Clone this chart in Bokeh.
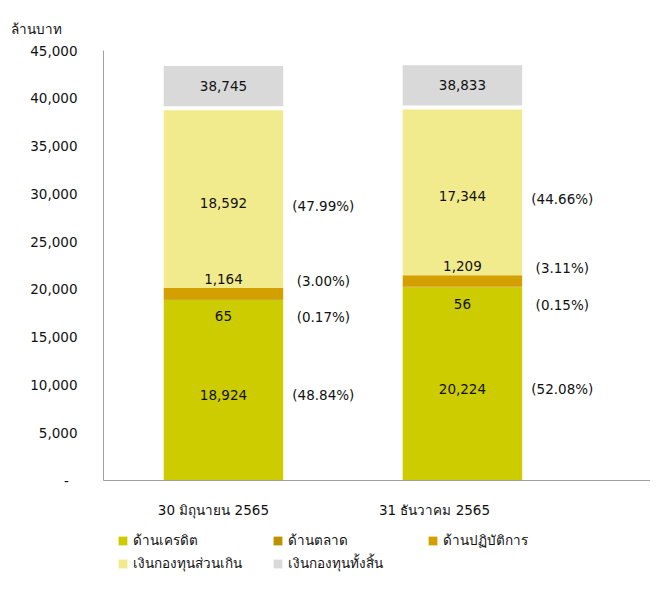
import numpy as np
from bokeh.plotting import figure
from bokeh.layouts import column
from bokeh.models import ColumnDataSource, Range1d, FixedTicker, Title, Legend, LegendItem
from bokeh.core.properties import value
from bokeh.embed import file_html
from bokeh.resources import INLINE

# ---------------- data ----------------
categories = ["30 มิถุนายน 2565", "31 ธันวาคม 2565"]
credit = [18924, 20224]
market = [65, 56]
operational = [1164, 1209]
excess = [18592, 17344]
total = [38745, 38833]
credit_pct = [48.84, 52.08]
market_pct = [0.17, 0.15]
operational_pct = [3.00, 3.11]
excess_pct = [47.99, 44.66]
series_names = ["ด้านเครดิต", "ด้านตลาด", "ด้านปฏิบัติการ", "เงินกองทุนส่วนเกิน", "เงินกองทุนทั้งสิ้น"]
y_ticks = [0, 5000, 10000, 15000, 20000, 25000, 30000, 35000, 40000, 45000]
y_unit = "ล้านบาท"

# ---------------- style ----------------
colors = ["#CCCC00", "#BF9000", "#D4A000", "#F2EB8E", "#D9D9D9"]
FONT = "DejaVu Sans"
FS = "13.5px"
TXT = "#111111"
AXIS = "#A0A0A0"
BAR_W = 0.5
PCT_DX = 0.418
BOX_GAP = 420
BOX_H = 4200

x = np.arange(len(categories), dtype=float)
c = np.array(credit, dtype=float)
m = np.array(market, dtype=float)
o = np.array(operational, dtype=float)
e = np.array(excess, dtype=float)
t = np.array(total, dtype=float)

b_m = c
b_o = c + m
b_e = b_o + o
top_e = b_e + e
box_b = t + BOX_GAP
box_t = box_b + BOX_H

src = ColumnDataSource(dict(
    x=x, x_pct=x + PCT_DX,
    c0=np.zeros_like(c), c1=c,
    m0=b_m, m1=b_o,
    o0=b_o, o1=b_e,
    e0=b_e, e1=top_e,
    t0=box_b, t1=box_t,
    c_mid=c / 2, m_top=b_o, o_top=b_e, e_mid=b_e + e / 2, t_mid=(box_b + box_t) / 2,
    c_lab=[f"{v:,}" for v in credit], m_lab=[f"{v:,}" for v in market],
    o_lab=[f"{v:,}" for v in operational], e_lab=[f"{v:,}" for v in excess],
    t_lab=[f"{v:,}" for v in total],
    c_pct=[f"({v:.2f}%)" for v in credit_pct], m_pct=[f"({v:.2f}%)" for v in market_pct],
    o_pct=[f"({v:.2f}%)" for v in operational_pct], e_pct=[f"({v:.2f}%)" for v in excess_pct],
))

p = figure(width=650, height=520, output_backend="svg", toolbar_location=None,
           x_range=Range1d(-0.502, 1.787), y_range=Range1d(0, 45000),
           min_border_left=103, min_border_right=0, min_border_top=50, min_border_bottom=38)
p.outline_line_color = None
p.xgrid.visible = False
p.ygrid.visible = False
p.background_fill_color = "white"

pairs = [("c0", "c1"), ("m0", "m1"), ("o0", "o1"), ("e0", "e1"), ("t0", "t1")]
for (b0, b1), col in zip(pairs, colors):
    p.vbar(x="x", width=BAR_W, bottom=b0, top=b1, source=src,
           fill_color=col, line_color=None)

def txt(xc, yc, col, yoff=0):
    p.text(x=xc, y=yc, text=col, source=src, text_font=value(FONT), text_font_size=FS,
           text_color=TXT, text_align="center", text_baseline="middle", y_offset=yoff)

txt("x", "c_mid", "c_lab", 5)
txt("x", "m_top", "m_lab", 17)
txt("x", "o_top", "o_lab", -9)
txt("x", "e_mid", "e_lab", 4)
txt("x", "t_mid", "t_lab", 0)
txt("x_pct", "c_mid", "c_pct", 5)
txt("x_pct", "m_top", "m_pct", 18)
txt("x_pct", "o_top", "o_pct", -7)
txt("x_pct", "e_mid", "e_pct", 7)

# y axis
ya = p.yaxis[0]
ya.ticker = FixedTicker(ticks=y_ticks)
ya.major_label_overrides = {tk: (f"{tk:,}" if tk else "-\u00a0\u00a0") for tk in y_ticks}
ya.axis_line_color = AXIS
ya.major_tick_line_color = None
ya.minor_tick_line_color = None
ya.major_tick_out = 0
ya.major_tick_in = 0
ya.major_label_standoff = 26
ya.major_label_text_font = FONT
ya.major_label_text_font_size = FS
ya.major_label_text_color = TXT

# x axis
label_shift = [-0.042, -0.117]
x_label_pos = [float(i) + s for i, s in enumerate(label_shift)]
xa = p.xaxis[0]
xa.ticker = FixedTicker(ticks=x_label_pos)
xa.major_label_overrides = {pos: cat for pos, cat in zip(x_label_pos, categories)}
xa.axis_line_color = AXIS
xa.major_tick_line_color = None
xa.minor_tick_line_color = None
xa.major_tick_out = 0
xa.major_tick_in = 0
xa.major_label_standoff = 21
xa.major_label_text_font = FONT
xa.major_label_text_font_size = FS
xa.major_label_text_color = TXT

# unit label (above the y axis)
p.add_layout(Title(text=y_unit, align="left", offset=-93, standoff=28,
                   text_font=FONT, text_font_size=FS, text_font_style="normal",
                   text_color=TXT), "above")

# legend in its own strip below the chart
lg = figure(width=650, height=54, output_backend="svg", toolbar_location=None,
            x_range=Range1d(0, 1), y_range=Range1d(0, 1),
            min_border_left=103, min_border_right=0, min_border_top=0, min_border_bottom=0,
            x_axis_location=None, y_axis_location=None)
lg.outline_line_color = None
lg.xgrid.visible = False
lg.ygrid.visible = False
leg_renderers = [lg.vbar(x=[0.5], bottom=[0.0], top=[0.0], width=0.1, fill_color=col, line_color=None)
                 for col in colors]

legend = Legend(items=[LegendItem(label=n, renderers=[r]) for n, r in zip(series_names, leg_renderers)],
                location=(14, 0), orientation="horizontal", ncols=3,
                label_text_font=FONT, label_text_font_size=FS, label_text_color=TXT,
                border_line_color=None, background_fill_alpha=0, padding=0, margin=0,
                spacing=1, label_width=138, label_height=16, label_standoff=5,
                glyph_width=11, glyph_height=11)
lg.add_layout(legend)

layout = column(p, lg, spacing=0)
open("out.html", "w").write(file_html(layout, INLINE))
